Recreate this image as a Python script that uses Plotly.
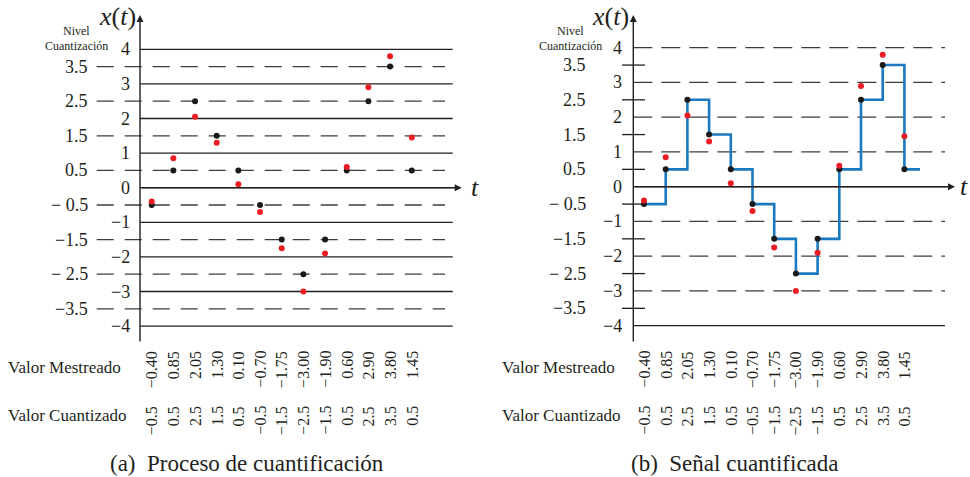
import plotly.graph_objects as go

# ---------------- data ----------------
sampled = [-0.40, 0.85, 2.05, 1.30, 0.10, -0.70, -1.75, -3.00, -1.90, 0.60, 2.90, 3.80, 1.45]
quantized = [-0.5, 0.5, 2.5, 1.5, 0.5, -0.5, -1.5, -2.5, -1.5, 0.5, 2.5, 3.5, 0.5]
sampled_labels = ["−0.40", "0.85", "2.05", "1.30", "0.10", "−0.70", "−1.75",
                  "−3.00", "−1.90", "0.60", "2.90", "3.80", "1.45"]
quantized_labels = ["−0.5", "0.5", "2.5", "1.5", "0.5", "−0.5", "−1.5",
                    "−2.5", "−1.5", "0.5", "2.5", "3.5", "0.5"]
int_levels = [4, 3, 2, 1, 0, -1, -2, -3, -4]
int_labels = ["4", "3", "2", "1", "0", "−1", "−2", "−3", "−4"]
half_levels = [3.5, 2.5, 1.5, 0.5, -0.5, -1.5, -2.5, -3.5]
half_labels = ["3.5", "2.5", "1.5", "0.5", "− 0.5", "−1.5", "− 2.5", "−3.5"]
t = list(range(len(sampled)))

# ---------------- style ----------------
W, H = 970, 477
SERIF = "Liberation Serif"
INK = "#231f20"
DASHC = "#3c3c3c"
RED = "#ec1c24"
BLK = "#1a1a1a"
BLUE = "#1b79c0"


def px(x):
    return x / W


def py(y):
    return 1 - y / H


fig = go.Figure()

# left panel points
fig.add_trace(go.Scatter(x=t, y=quantized, mode="markers", xaxis="x", yaxis="y",
                         marker=dict(size=6, color=BLK), hoverinfo="skip"))
fig.add_trace(go.Scatter(x=t, y=sampled, mode="markers", xaxis="x", yaxis="y",
                         marker=dict(size=6, color=RED), hoverinfo="skip"))

# right panel step + points
step_x = t + [t[-1] + 0.72]
step_y = quantized + [quantized[-1]]
fig.add_trace(go.Scatter(x=step_x, y=step_y, mode="lines", line_shape="hv",
                         xaxis="x2", yaxis="y2",
                         line=dict(color=BLUE, width=2.6), hoverinfo="skip"))
fig.add_trace(go.Scatter(x=t, y=quantized, mode="markers", xaxis="x2", yaxis="y2",
                         marker=dict(size=6, color=BLK), hoverinfo="skip"))
fig.add_trace(go.Scatter(x=t, y=sampled, mode="markers", xaxis="x2", yaxis="y2",
                         marker=dict(size=6, color=RED), hoverinfo="skip"))

shapes = []
ann = []

# ---------- left panel decorations ----------
for v in int_levels:
    shapes.append(dict(type="line", xref="paper", yref="y", x0=px(140), x1=px(452.7),
                       y0=v, y1=v, line=dict(color=INK, width=1.3), layer="below"))
for v in half_levels:
    shapes.append(dict(type="line", xref="paper", yref="y", x0=px(96.7), x1=px(445),
                       y0=v, y1=v, line=dict(color=DASHC, width=1.3, dash="17px,11px"),
                       layer="below"))
for v, s in zip(int_levels, int_labels):
    ann.append(dict(xref="paper", yref="y", x=px(132), y=v, text=s, xanchor="right",
                    yanchor="middle", showarrow=False, font=dict(size=18, color=INK, family=SERIF)))
for v, s in zip(half_levels, half_labels):
    ann.append(dict(xref="paper", yref="y", x=px(90), y=v, text=s, xanchor="right",
                    yanchor="middle", showarrow=False, font=dict(size=18, color=INK, family=SERIF)))

# ---------- right panel decorations ----------
for v in int_levels:
    if v == 0:
        continue
    if v == -4:
        shapes.append(dict(type="line", xref="paper", yref="y2", x0=px(633.3), x1=px(945),
                           y0=v, y1=v, line=dict(color=INK, width=1.3), layer="below"))
    else:
        shapes.append(dict(type="line", xref="paper", yref="y2", x0=px(633.3), x1=px(945),
                           y0=v, y1=v, line=dict(color=DASHC, width=1.3, dash="19px,9px"),
                           layer="below"))
for v in half_levels:
    shapes.append(dict(type="line", xref="paper", yref="y2", x0=px(622), x1=px(645),
                       y0=v, y1=v, line=dict(color=INK, width=1.3), layer="below"))
shapes.append(dict(type="line", xref="paper", yref="y2", x0=px(633.3), x1=px(946),
                   y0=0, y1=0, line=dict(color=INK, width=1.3), layer="below"))
for v, s in zip(int_levels, int_labels):
    ann.append(dict(xref="paper", yref="y2", x=px(624), y=v, text=s, xanchor="right",
                    yanchor="middle", showarrow=False, font=dict(size=18, color=INK, family=SERIF)))
for v, s in zip(half_levels, half_labels):
    ann.append(dict(xref="paper", yref="y2", x=px(588), y=v, text=s, xanchor="right",
                    yanchor="middle", showarrow=False, font=dict(size=18, color=INK, family=SERIF)))

# ---------- axes arrows & labels (both panels) ----------
for (axx, zero_y, tip_x, tlab_x, xt_x, niv_x, xa, ya, lab_x, cap_x, cap) in [
    (140, 187.7, 461.7, 475, 117, 76, "x", "y", 6, 247, "(a)  Proceso de cuantificación"),
    (633.3, 186.7, 955, 964, 610, 570, "x2", "y2", 500, 735, "(b)  Señal cuantificada"),
]:
    # y axis
    ann.append(dict(xref="paper", yref="paper", x=px(axx), y=py(15), ax=0, ay=343 - 15,
                    axref="pixel", ayref="pixel", showarrow=True, arrowhead=2, arrowsize=1,
                    arrowwidth=1.4, arrowcolor=INK, text="", standoff=0))
    # x axis
    ann.append(dict(xref="paper", yref="paper", x=px(tip_x), y=py(zero_y), ax=-(tip_x - axx), ay=0,
                    axref="pixel", ayref="pixel", showarrow=True, arrowhead=2, arrowsize=1,
                    arrowwidth=1.4, arrowcolor=INK, text="", standoff=0))
    ann.append(dict(xref="paper", yref="paper", x=px(tlab_x), y=py(zero_y), text="<i>t</i>",
                    showarrow=False, xanchor="center", yanchor="middle",
                    font=dict(size=26, color=INK, family=SERIF)))
    ann.append(dict(xref="paper", yref="paper", x=px(xt_x), y=py(17), text="<i>x</i>(<i>t</i>)",
                    showarrow=False, xanchor="center", yanchor="middle",
                    font=dict(size=26, color=INK, family=SERIF)))
    ann.append(dict(xref="paper", yref="paper", x=px(niv_x), y=py(31), text="Nivel",
                    showarrow=False, xanchor="center", yanchor="middle",
                    font=dict(size=12, color=INK, family=SERIF)))
    ann.append(dict(xref="paper", yref="paper", x=px(niv_x), y=py(46), text="Cuantización",
                    showarrow=False, xanchor="center", yanchor="middle",
                    font=dict(size=12, color=INK, family=SERIF)))
    ann.append(dict(xref="paper", yref="paper", x=px(lab_x), y=py(367), text="Valor Mestreado",
                    showarrow=False, xanchor="left", yanchor="middle",
                    font=dict(size=17, color=INK, family=SERIF)))
    ann.append(dict(xref="paper", yref="paper", x=px(lab_x), y=py(415), text="Valor Cuantizado",
                    showarrow=False, xanchor="left", yanchor="middle",
                    font=dict(size=17, color=INK, family=SERIF)))
    ann.append(dict(xref="paper", yref="paper", x=px(cap_x), y=py(463), text=cap,
                    showarrow=False, xanchor="center", yanchor="middle",
                    font=dict(size=23, color=INK, family=SERIF)))
    for i, (s1, s2) in enumerate(zip(sampled_labels, quantized_labels)):
        ann.append(dict(xref=xa, yref="paper", x=t[i], y=py(349), text=s1, textangle=-90,
                        showarrow=False, xanchor="center", yanchor="top",
                        font=dict(size=16, color=INK, family=SERIF)))
        ann.append(dict(xref=xa, yref="paper", x=t[i], y=py(404), text=s2, textangle=-90,
                        showarrow=False, xanchor="center", yanchor="top",
                        font=dict(size=16, color=INK, family=SERIF)))

hidden = dict(visible=False, showgrid=False, zeroline=False, fixedrange=True)
fig.update_layout(
    width=W, height=H, margin=dict(l=0, r=0, t=0, b=0),
    paper_bgcolor="white", plot_bgcolor="white", showlegend=False,
    xaxis=dict(domain=[0, 480 / W], range=[-151.7 / 21.67, (480 - 151.7) / 21.67], **hidden),
    yaxis=dict(domain=[0, 1], range=[(187.7 - H) / 34.6, 187.7 / 34.6], **hidden),
    xaxis2=dict(domain=[490 / W, 1], range=[(490 - 644) / 21.7, (970 - 644) / 21.7],
                anchor="y2", **hidden),
    yaxis2=dict(domain=[0, 1], range=[(186.7 - H) / 34.75, 186.7 / 34.75], anchor="x2", **hidden),
    shapes=shapes, annotations=ann,
)

fig.write_html("out.html", config={"displayModeBar": False},
               post_script="document.body.style.margin='0px';document.body.style.overflow='hidden';")
